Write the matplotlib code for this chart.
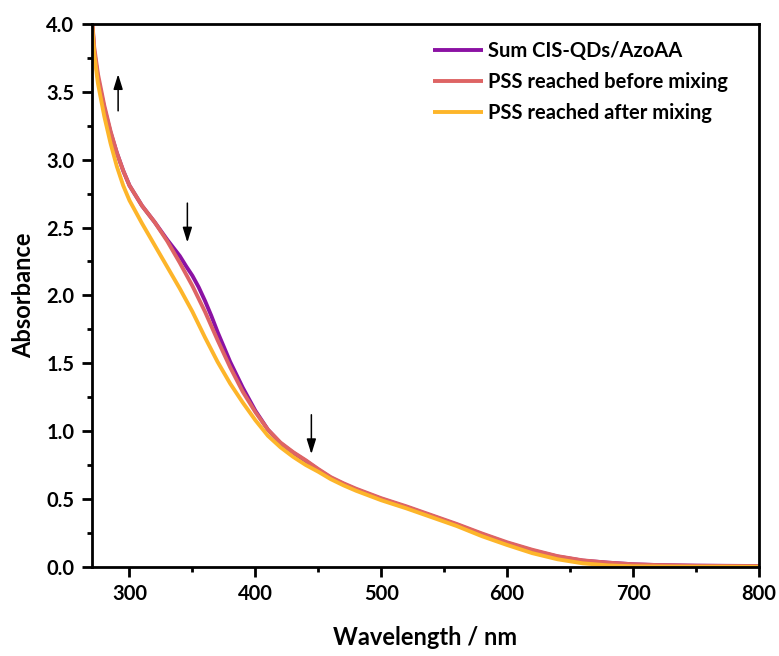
import matplotlib
matplotlib.use("Agg")
import matplotlib.pyplot as plt
from matplotlib.ticker import MultipleLocator, FormatStrFormatter

plt.rcParams['font.family'] = ['Lato', 'DejaVu Sans']
plt.rcParams['font.weight'] = 'bold'

# Absorption spectra (wavelength in nm)
wl_sum = [270, 272, 275, 280, 285, 290, 295, 300, 310, 320, 330, 340, 345, 350,
          355, 360, 365, 370, 380, 390, 400, 410, 420, 430, 440, 450, 460, 470, 480,
          490, 500, 520, 540, 560, 580, 600, 620, 640, 660, 680, 700, 720, 750, 800]
abs_sum = [4.08, 3.80, 3.60, 3.38, 3.20, 3.05, 2.92, 2.81, 2.66, 2.54, 2.41, 2.29,
           2.215, 2.145, 2.06, 1.96, 1.85, 1.73, 1.51, 1.32, 1.15, 1.01, 0.91, 0.84,
           0.78, 0.715, 0.655, 0.61, 0.57, 0.535, 0.50, 0.44, 0.375, 0.31, 0.24,
           0.175, 0.12, 0.075, 0.045, 0.03, 0.018, 0.012, 0.008, 0.005]

wl_before = [270, 272, 275, 280, 285, 290, 295, 300, 310, 320, 330, 340, 350, 360,
             370, 380, 390, 400, 410, 420, 430, 440, 450, 460, 470, 480, 490, 500,
             520, 540, 560, 580, 600, 620, 640, 660, 680, 700, 720, 750, 800]
abs_before = [4.08, 3.83, 3.63, 3.40, 3.21, 3.05, 2.92, 2.81, 2.66, 2.54, 2.40, 2.24,
              2.07, 1.88, 1.67, 1.47, 1.29, 1.14, 1.01, 0.915, 0.845, 0.785, 0.72,
              0.66, 0.615, 0.575, 0.54, 0.505, 0.445, 0.38, 0.315, 0.245, 0.18,
              0.125, 0.078, 0.047, 0.03, 0.018, 0.012, 0.007, 0.004]

wl_after = [270, 272, 275, 280, 285, 290, 295, 300, 310, 320, 330, 340, 350, 360,
            370, 380, 390, 400, 410, 420, 430, 440, 450, 460, 470, 480, 490, 500,
            520, 540, 560, 580, 600, 620, 640, 660, 680, 700, 750, 800]
abs_after = [4.05, 3.78, 3.56, 3.32, 3.12, 2.95, 2.81, 2.70, 2.53, 2.37, 2.21, 2.05,
             1.88, 1.69, 1.51, 1.35, 1.21, 1.08, 0.965, 0.88, 0.81, 0.75, 0.70, 0.645,
             0.60, 0.56, 0.525, 0.49, 0.43, 0.365, 0.30, 0.225, 0.16, 0.10, 0.055,
             0.025, 0.01, 0.003, 0.0, 0.0]

labels = ["Sum CIS-QDs/AzoAA", "PSS reached before mixing", "PSS reached after mixing"]
colors = ["#8B12A3", "#DE6464", "#FDB52A"]

# Arrows marking spectral changes: (wavelength, tail, head)
arrows = [(291, 3.36, 3.63), (346, 2.68, 2.39), (444.5, 1.12, 0.83)]

fig = plt.figure(figsize=(7.79, 6.56), dpi=100)
ax = fig.add_axes([0.1177, 0.1361, 0.8565, 0.8273])

for wl, a, lab, c in zip([wl_sum, wl_before, wl_after],
                         [abs_sum, abs_before, abs_after], labels, colors):
    ax.plot(wl, a, color=c, lw=2.8, label=lab, solid_capstyle='butt',
            solid_joinstyle='round')

for x, y0, y1 in arrows:
    ax.annotate("", xy=(x, y1), xytext=(x, y0),
                arrowprops=dict(arrowstyle='-|>,head_length=0.9,head_width=0.28',
                                lw=1.1, color='black', shrinkA=0, shrinkB=0))

ax.set_xlim(270, 800)
ax.set_ylim(0, 4.0)
ax.xaxis.set_major_locator(MultipleLocator(100))
ax.xaxis.set_minor_locator(MultipleLocator(50))
ax.yaxis.set_major_locator(MultipleLocator(0.5))
ax.yaxis.set_minor_locator(MultipleLocator(0.25))
ax.yaxis.set_major_formatter(FormatStrFormatter('%.1f'))

for s in ax.spines.values():
    s.set_linewidth(2.0)
ax.tick_params(which='major', length=7.5, width=2.0, labelsize=14.5, pad=5,
               top=False, right=False)
ax.tick_params(which='minor', length=3.8, width=2.0, top=False, right=False)
for t in ax.get_xticklabels() + ax.get_yticklabels():
    t.set_fontweight('bold')

ax.set_xlabel("Wavelength / nm", fontsize=17, fontweight='bold', labelpad=16)
ax.set_ylabel("Absorbance", fontsize=17, fontweight='bold', labelpad=8)

leg = ax.legend(loc='upper right', frameon=False, fontsize=14.5, handlelength=2.5,
                handletextpad=0.25, labelspacing=0.55, borderaxespad=0.3,
                bbox_to_anchor=(0.975, 0.995))
for t in leg.get_texts():
    t.set_fontweight('bold')

fig.savefig("out.png", dpi=100)
